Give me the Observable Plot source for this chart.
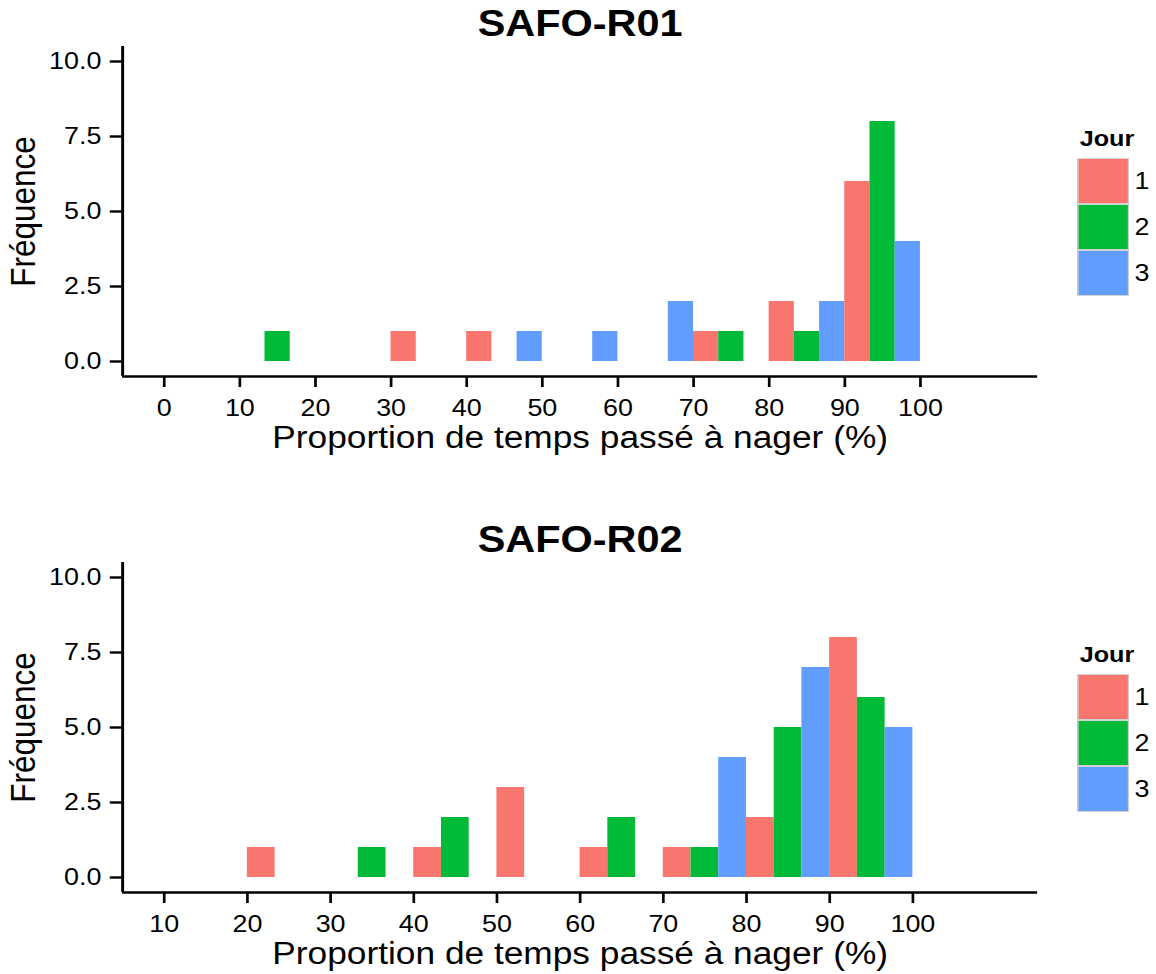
<!DOCTYPE html>
<html>
<head>
<meta charset="utf-8">
<script src="https://cdn.jsdelivr.net/npm/d3@7"></script>
<script src="https://cdn.jsdelivr.net/npm/@observablehq/plot@0.6"></script>
<style>
  html, body { margin: 0; padding: 0; background: #fff; overflow: hidden; }
  #stage {
    position: relative; width: 1032px; height: 974px;
    transform: scaleX(1.12); transform-origin: 0 0;
    font-family: "Liberation Sans", Arial, sans-serif; color: #000;
  }
  .panel { position: absolute; left: 0; width: 1032px; height: 516px; }
  .panel svg { position: absolute; left: 0; top: 0; }
  .panel svg g[aria-label$="tick label"],
  .panel svg g[aria-label$="tick label"] text { font-size: 24px !important; }
  .leg-title { position: absolute; left: 964px; top: 127.5px; font-weight: bold; font-size: 22.5px; line-height: 22.5px; }
  .leg-key { position: absolute; left: 962px; width: 46px; height: 46px; box-sizing: border-box; border: 1px solid #d2d2d2; }
  .leg-label { position: absolute; left: 1013px; font-size: 24px; line-height: 46px; height: 46px; }
</style>
</head>
<body>
<div id="stage"></div>
<script>
// ---- Data ----
const days = ["1", "2", "3"];
const dayColors = ["#F8766D", "#00BA38", "#619CFF"];
const binWidth = 10;

// SAFO-R01
const titleR01 = "SAFO-R01";
const binsR01 = [0, 10, 20, 30, 40, 50, 60, 70, 80, 90];
const r01Jour1 = [0, 0, 0, 1, 1, 0, 0, 1, 2, 6];
const r01Jour2 = [0, 1, 0, 0, 0, 0, 0, 1, 1, 8];
const r01Jour3 = [0, 0, 0, 0, 1, 1, 2, 0, 2, 4];
const xTicksR01 = [0, 10, 20, 30, 40, 50, 60, 70, 80, 90, 100];
const xDomainR01 = [-5.5, 115.5];

// SAFO-R02
const titleR02 = "SAFO-R02";
const binsR02 = [10, 20, 30, 40, 50, 60, 70, 80, 90];
const r02Jour1 = [0, 1, 0, 1, 3, 1, 1, 2, 8];
const r02Jour2 = [0, 0, 1, 2, 0, 2, 1, 5, 6];
const r02Jour3 = [0, 0, 0, 0, 0, 0, 4, 7, 5];
const xTicksR02 = [10, 20, 30, 40, 50, 60, 70, 80, 90, 100];
const xDomainR02 = [5, 115];

const yTicks = [0, 2.5, 5, 7.5, 10];
const yDomain = [-0.5, 10.5];
const xLabel = "Proportion de temps passé à nager (%)";
const yLabel = "Fréquence";
const legendTitle = "Jour";

// ---- Build dodged histogram rows ----
function buildRows(bins, series) {
  const rows = [];
  const w = binWidth / days.length;
  bins.forEach((b, i) => {
    series.forEach((vals, k) => {
      if (vals[i] > 0) rows.push({ jour: days[k], x1: b + k * w, x2: b + (k + 1) * w, count: vals[i] });
    });
  });
  return rows;
}

const W = 1032;
const FONT = '"Liberation Sans", Arial, sans-serif';

function panel(title, rows, xDomain, xTicks, topPx) {
  const div = document.createElement("div");
  div.className = "panel";
  div.style.top = topPx + "px";
  const chart = Plot.plot({
    width: W, height: 516,
    marginLeft: 109, marginRight: W - 926, marginTop: 46, marginBottom: 140,
    style: { fontFamily: FONT, fontSize: "24px", color: "#000", background: "transparent", overflow: "visible" },
    x: { domain: xDomain },
    y: { domain: yDomain },
    color: { domain: days, range: dayColors },
    marks: [
      Plot.rect(rows, { x1: "x1", x2: "x2", y1: 0, y2: "count", fill: "jour" }),
      Plot.ruleX([xDomain[0]], { stroke: "#000", strokeWidth: 2.6 }),
      Plot.ruleY([yDomain[0]], { stroke: "#000", strokeWidth: 2.6 }),
      Plot.axisX({ ticks: xTicks, tickSize: 11, tickPadding: 11, strokeWidth: 2.4, fontSize: 24, tickFormat: d => String(d), label: null }),
      Plot.axisY({ ticks: yTicks, tickSize: 11, tickPadding: 8, strokeWidth: 2.4, fontSize: 24, tickFormat: d3.format(".1f"), label: null }),
      Plot.text([title], { frameAnchor: "top", textAnchor: "middle", lineAnchor: "middle", dy: -22, fontSize: 37, fontWeight: "bold" }),
      Plot.text([xLabel], { frameAnchor: "bottom", textAnchor: "middle", lineAnchor: "middle", dy: 61, fontSize: 31.5 }),
      Plot.text([yLabel], { frameAnchor: "left", textAnchor: "middle", lineAnchor: "middle", dx: -88, rotate: -90, fontSize: 31.5 })
    ]
  });
  div.appendChild(chart);

  const lt = document.createElement("div");
  lt.className = "leg-title";
  lt.textContent = legendTitle;
  div.appendChild(lt);
  days.forEach((d, k) => {
    const key = document.createElement("div");
    key.className = "leg-key";
    key.style.top = (158 + k * 46) + "px";
    key.style.background = dayColors[k];
    div.appendChild(key);
    const lab = document.createElement("div");
    lab.className = "leg-label";
    lab.style.top = (158 + k * 46) + "px";
    lab.textContent = d;
    div.appendChild(lab);
  });
  return div;
}

const stage = document.getElementById("stage");
stage.appendChild(panel(titleR01, buildRows(binsR01, [r01Jour1, r01Jour2, r01Jour3]), xDomainR01, xTicksR01, 0));
stage.appendChild(panel(titleR02, buildRows(binsR02, [r02Jour1, r02Jour2, r02Jour3]), xDomainR02, xTicksR02, 516));
</script>
</body>
</html>
